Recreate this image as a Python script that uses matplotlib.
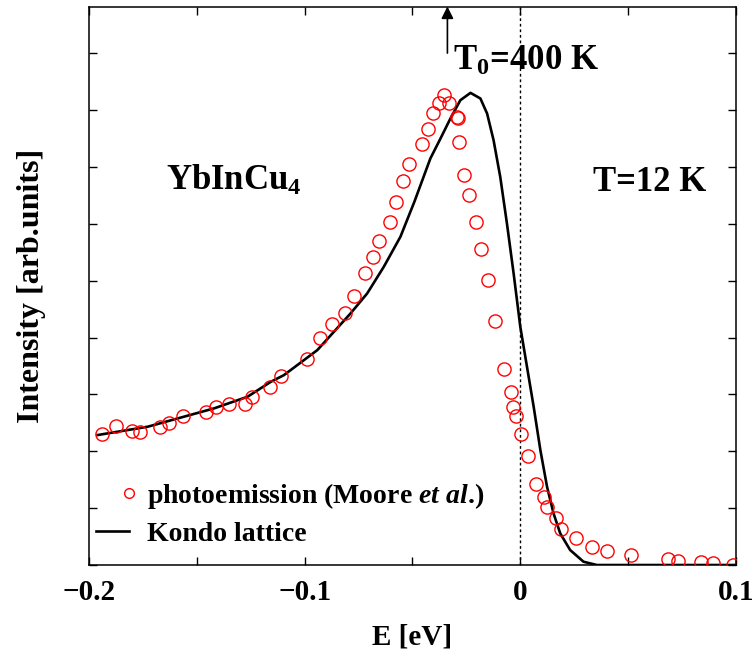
import matplotlib
matplotlib.use('Agg')
import matplotlib.pyplot as plt
from matplotlib.lines import Line2D
from matplotlib.legend_handler import HandlerLine2D

plt.rcParams['font.family'] = ['Liberation Serif', 'DejaVu Serif']
plt.rcParams['font.weight'] = 'bold'
plt.rcParams['axes.labelweight'] = 'bold'
plt.rcParams['mathtext.fontset'] = 'custom'
plt.rcParams['mathtext.rm'] = 'Liberation Serif:bold'
plt.rcParams['mathtext.bf'] = 'Liberation Serif:bold'
plt.rcParams['mathtext.it'] = 'Liberation Serif:italic:bold'

# photoemission data (Moore et al.), E in eV, intensity in arb. units
pes_E = [-0.1941, -0.1875, -0.1802, -0.1764, -0.1670, -0.1631, -0.1566, -0.1458,
         -0.1412, -0.1353, -0.1276, -0.1242, -0.1162, -0.1111, -0.0991, -0.0931,
         -0.0872, -0.0813, -0.0772, -0.0721, -0.0684, -0.0656, -0.0603, -0.0575,
         -0.0545, -0.0515, -0.0454, -0.0427, -0.0406, -0.0378, -0.0355, -0.0329,
         -0.0293, -0.0290, -0.0282, -0.0259, -0.0238, -0.0207, -0.0181, -0.0151,
         -0.0117, -0.0075, -0.0044, -0.0036, -0.0019, 0.0005, 0.0036, 0.0071,
         0.0108, 0.0122, 0.0165, 0.0190, 0.0256, 0.0332, 0.0401, 0.0513,
         0.0687, 0.0731, 0.0837, 0.0895, 0.0988]
pes_I = [2.297, 2.448, 2.360, 2.332, 2.420, 2.490, 2.619, 2.684,
         2.782, 2.824, 2.830, 2.961, 3.128, 3.327, 3.615, 3.984,
         4.230, 4.424, 4.728, 5.127, 5.418, 5.694, 6.023, 6.385,
         6.749, 7.047, 7.399, 7.663, 7.949, 8.125, 8.260, 8.114,
         7.879, 7.851, 7.439, 6.854, 6.503, 6.023, 5.548, 5.009,
         4.294, 3.439, 3.049, 2.772, 2.624, 2.297, 1.916, 1.418,
         1.200, 1.025, 0.826, 0.627, 0.475, 0.322, 0.251, 0.170,
         0.105, 0.076, 0.053, 0.030, 0.000]

# Kondo lattice calculation
kl_E = [-0.1960, -0.1728, -0.1420, -0.1265, -0.1157, -0.1096, -0.0941, -0.0787,
        -0.0710, -0.0633, -0.0556, -0.0491, -0.0417, -0.0370, -0.0324, -0.0278,
        -0.0231, -0.0185, -0.0154, -0.0124, -0.0093, -0.0062, -0.0031, 0.0000,
        0.0031, 0.0062, 0.0093, 0.0124, 0.0154, 0.0185, 0.0231, 0.0293,
        0.0355, 0.1000]
kl_I = [2.285, 2.431, 2.754, 2.958, 3.221, 3.339, 3.779, 4.424,
        4.775, 5.243, 5.770, 6.388, 7.148, 7.499, 7.851, 8.172,
        8.301, 8.202, 7.938, 7.469, 6.824, 6.005, 5.127, 4.188,
        3.485, 2.782, 2.021, 1.376, 0.909, 0.557, 0.264, 0.058,
        0.000, 0.000]

T0_E = -0.0338


class RightMarker(HandlerLine2D):
    # single legend marker at the right end of the handle
    def get_xdata(self, legend, xdescent, ydescent, width, height, fontsize):
        x = [width - xdescent, width - xdescent]
        return x, x[:1]


fig = plt.figure(figsize=(7.56, 6.57), dpi=100)
ax = fig.add_axes([0.1177, 0.14, 0.8558, 0.8493])

ax.axvline(0, color='k', lw=1.0, ls=(0, (2, 2)))
ax.plot(kl_E, kl_I, color='k', lw=1.9, zorder=3)
ax.plot(pes_E, pes_I, 'o', mfc='none', mec='red', ms=9.5, mew=1.0, zorder=4)

ax.annotate('', xy=(T0_E, 9.82), xytext=(T0_E, 9.0),
            arrowprops=dict(arrowstyle='-|>', color='k', lw=1.2, mutation_scale=18,
                            shrinkA=0, shrinkB=0),
            annotation_clip=False)

ax.text(-0.031, 8.70, r'T$_0$=400 K', fontsize=25, va='baseline')
ax.text(-0.1644, 6.59, r'YbInCu$_4$', fontsize=25, va='baseline')
ax.text(0.0338, 6.57, 'T=12 K', fontsize=25, va='baseline')

ax.set_xlim(-0.2, 0.1)
ax.set_ylim(0, 9.81)
xt = [-0.2, -0.15, -0.1, -0.05, 0, 0.05, 0.1]
ax.set_xticks(xt)
ax.set_xticklabels(['\u22120.2', '', '\u22120.1', '', '0', '', '0.1'])
ax.set_yticks(range(0, 10))
ax.set_yticklabels([])
ax.tick_params(direction='in', length=6, width=1, top=True, right=True,
               labelsize=21, pad=10)
for s in ax.spines.values():
    s.set_linewidth(1.1)

ax.set_xlabel('E [eV]', fontsize=21, labelpad=13)
ax.set_ylabel('Intensity [arb.units]', fontsize=23, labelpad=21)

pes_handle = Line2D([], [], marker='o', ls='none', mfc='none', mec='red', ms=7, mew=1.0)
kl_handle = Line2D([], [], color='k', lw=1.9)
labels = [r'photoemission (Moore $\mathit{et\ al.}\!$)', 'Kondo lattice']
ax.legend([pes_handle, kl_handle], labels, loc='lower left',
          bbox_to_anchor=(-0.002, 0.018), frameon=False, fontsize=20,
          handlelength=1.2, handletextpad=0.65, labelspacing=0.38,
          borderaxespad=0.0, borderpad=0.3,
          handler_map={pes_handle: RightMarker()})

fig.savefig('out.png', dpi=100)
